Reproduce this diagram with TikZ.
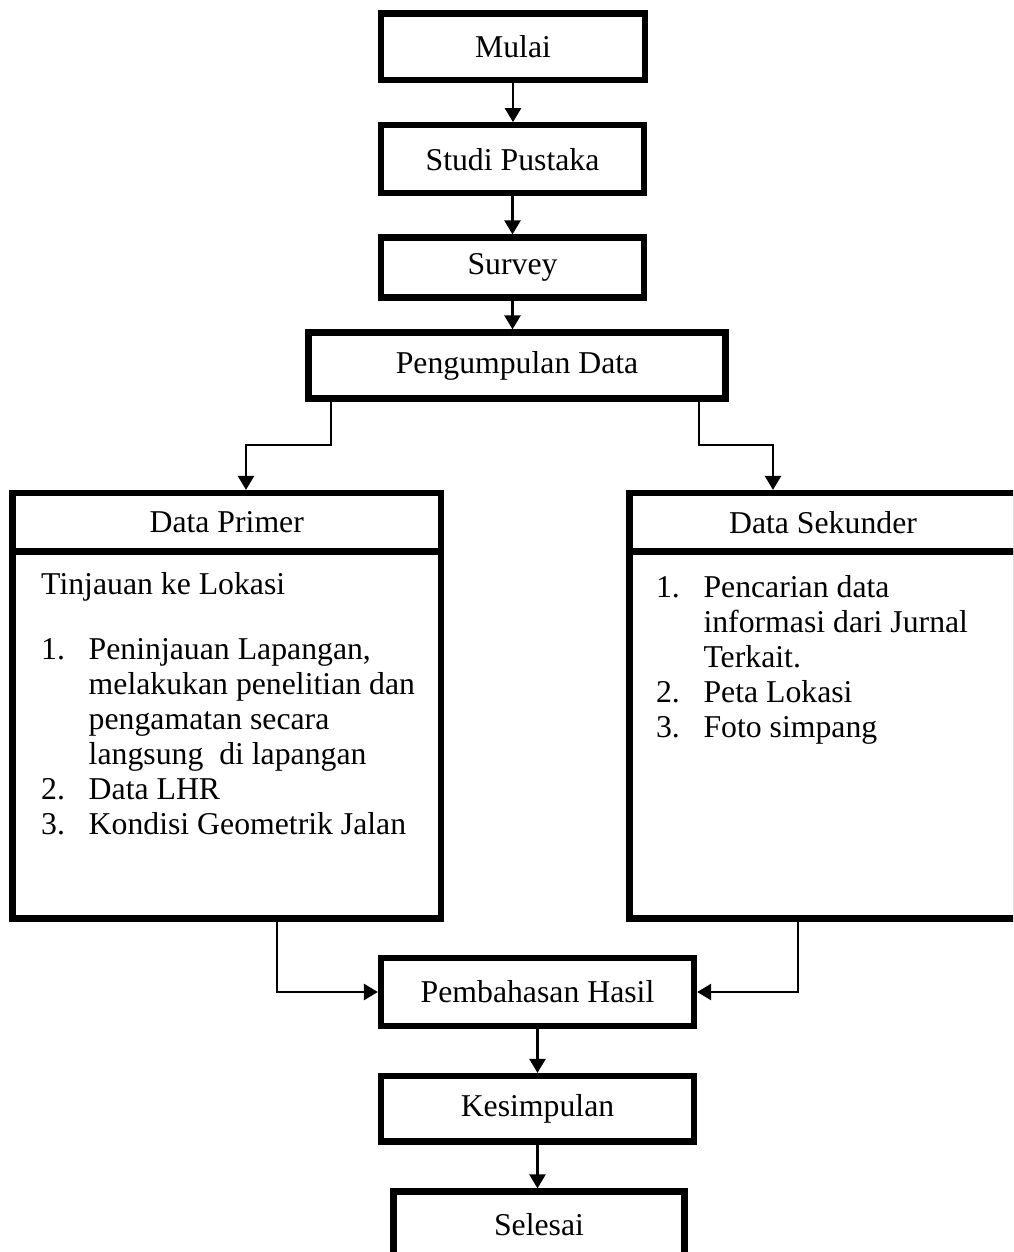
\documentclass[tikz,border=0pt]{standalone}
\usepackage{fontspec}
\setmainfont{Liberation Serif}
\usetikzlibrary{arrows.meta,positioning}

\begin{document}
\begin{tikzpicture}[x=0.4pt,y=-0.4pt,
	arr/.style={-{Triangle[length=5.6pt,width=6.4pt]},line width=1pt},
	listtext/.style={draw=none,anchor=base west,inner sep=0pt,minimum width=0pt,minimum height=0pt}]
	\useasboundingbox (0,0) rectangle (1013,1252);
	\clip (0,0) rectangle (1013,1252);
	\begin{scope}[every node/.style={rectangle,draw,line width=2.5pt,inner sep=2pt,font=\fontsize{12.7pt}{14pt}\selectfont}]
		\node[minimum width=105.6pt,minimum height=26.6pt] (Mulai) at (513,46.75) {Mulai};
		\node[minimum width=105.2pt,minimum height=27.2pt] (Studi) at (512.5,159.25) {Studi Pustaka};
		\node[minimum width=105.2pt,minimum height=24pt] (Survey) at (512.5,267.5) {Survey};
		\node[minimum width=166.8pt,minimum height=26.4pt] (Pengumpulan) at (517,365.5) {Pengumpulan Data};
		\node[minimum width=171.4pt,minimum height=23.4pt] (PrimerHead) at (226.75,522.25) {Data Primer};
		\node[below=-2.5pt of PrimerHead,minimum width=171.4pt,minimum height=146.8pt] (PrimerBody) {};
		\node[minimum width=154.8pt,minimum height=23.4pt] (SekunderHead) at (823,522.25) {Data Sekunder};
		\node[below=-2.5pt of SekunderHead,minimum width=154.8pt,minimum height=146.8pt] (SekunderBody) {};
		\node[listtext] (PrimerList) at ([xshift=11.5pt,yshift=-18.6pt]PrimerBody.north west) {\begin{tabular}[t]{@{}p{19pt}@{}l@{}}
			\multicolumn{2}{@{}l@{}}{Tinjauan ke Lokasi}\\[12pt]
			1. & Peninjauan Lapangan,\\
			   & melakukan penelitian dan\\
			   & pengamatan secara\\
			   & langsung~ di lapangan\\
			2. & Data LHR\\
			3. & Kondisi Geometrik Jalan
		\end{tabular}};
		\node[listtext] (SekunderList) at ([xshift=10.6pt,yshift=-19.8pt]SekunderBody.north west) {\begin{tabular}[t]{@{}p{19pt}@{}l@{}}
			1. & Pencarian data\\
			   & informasi dari Jurnal\\
			   & Terkait.\\
			2. & Peta Lokasi\\
			3. & Foto simpang
		\end{tabular}};
		\node[minimum width=125.2pt,minimum height=27.2pt] (Pembahasan) at (537.5,992) {Pembahasan Hasil};
		\node[minimum width=125.2pt,minimum height=26.2pt] (Kesimpulan) at (537.5,1108.75) {Kesimpulan};
		\node[minimum width=116.4pt,minimum height=26.6pt] (Selesai) at (539,1224.75) {Selesai};
	\end{scope}

	\begin{scope}
		\coordinate (sL) at (331,0);
		\coordinate (sR) at (699,0);
		\coordinate (brL) at (246,445);
		\coordinate (brR) at (773,445);
		\coordinate (jL) at (277,0);
		\coordinate (jR) at (798,0);
		\draw[arr] (Mulai.south) -- (Mulai.south|-Studi.north);
		\draw[arr] (Studi.south) -- (Studi.south|-Survey.north);
		\draw[arr] (Survey.south) -- (Survey.south|-Pengumpulan.north);
		\draw[arr] (Pengumpulan.south-|sL) |- (brL) -- (PrimerHead.north-|brL);
		\draw[arr] (Pengumpulan.south-|sR) |- (brR) -- (SekunderHead.north-|brR);
		\draw[arr] (PrimerBody.south-|jL) |- (Pembahasan.west);
		\draw[arr] (SekunderBody.south-|jR) |- (Pembahasan.east);
		\draw[arr] (Pembahasan.south) -- (Pembahasan.south|-Kesimpulan.north);
		\draw[arr] (Kesimpulan.south) -- (Kesimpulan.south|-Selesai.north);
	\end{scope}
\end{tikzpicture}
\end{document}
